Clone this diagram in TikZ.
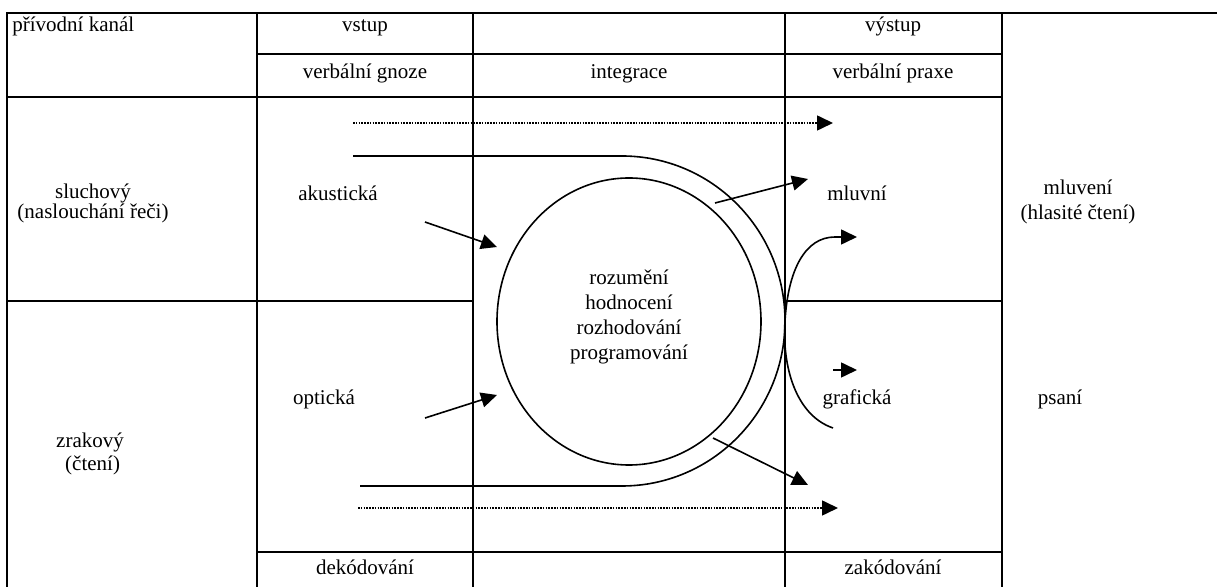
\documentclass[tikz,border=0pt]{standalone}
\usepackage{fontspec}
\setmainfont{Liberation Serif}
\usetikzlibrary{arrows.meta,shapes.geometric,positioning}
\tikzset{
rule/.style={line width=1.1pt},
flow/.style={line width=0.8pt,-{Triangle[length=8pt,width=7.5pt]}},
dotflow/.style={flow,line width=0.8pt,dash pattern=on 0.8pt off 0.6pt},
lbl/.style={inner sep=0pt,align=center,anchor=base,font=\fontsize{10.5}{12.5}\selectfont},
}

\begin{document}
\begin{tikzpicture}[x=0.5pt,y=-0.5pt]
            \useasboundingbox (0,0) rectangle (1217,587);
            % table rules
            \draw[rule] (7,587) -- (7,13) -- (1217,13);
            \draw[rule] (257,13) -- (257,587);
            \draw[rule] (473,13) -- (473,587);
            \draw[rule] (785,13) -- (785,587);
            \draw[rule] (1002,13) -- (1002,587);
            \draw[rule] (257,54) -- (1002,54);
            \draw[rule] (7,97) -- (1002,97);
            \draw[rule] (7,301) -- (473,301);
            \draw[rule] (785,301) -- (1002,301);
            \draw[rule] (257,552) -- (1002,552);

            % header
            \node[lbl,anchor=base west] (kanal) at (12,32) {přívodní kanál};
            \node[lbl] (vstup) at (365,32) {vstup};
            \node[lbl] (vystup) at (893,32) {výstup};
            \node[lbl] (gnoze) at (365,79) {verbální gnoze};
            \node[lbl] (integrace) at (629,79) {integrace};
            \node[lbl] (praxe) at (893,79) {verbální praxe};

            % rows (base = last line)
            \node[lbl,font=\fontsize{10.5}{10}\selectfont] (sluch) at (93,219) {sluchový\\(naslouchání řeči)};
            \node[lbl] (akust) at (338,201) {akustická};
            \node[lbl] (mluvni) at (857,201) {mluvní};
            \node[lbl] (mluveni) at (1078,220) {mluvení\\(hlasité čtení)};
            \node[lbl,font=\fontsize{10.5}{11.5}\selectfont] (zrak) at (90,471) {zrakový\\\ (čtení)};
            \node[lbl] (opt) at (324,405) {optická};
            \node[lbl] (graf) at (857,405) {grafická};
            \node[lbl] (psani) at (1060,405) {psaní};
            \node[lbl] (dekod) at (365,575) {dekódování};
            \node[lbl] (zakod) at (893,575) {zakódování};

            % centre
            \node[draw,ellipse,line width=0.8pt,inner sep=0pt,minimum width=132pt,minimum height=143.5pt] (core) at (629,321.5) {};
            \node[lbl] (tasks) at (629,360) {rozumění\\hodnocení\\rozhodování\\programování};

            \coordinate (acu-s) at (425,222);
            \coordinate (acu-e) at (497,247);
            \coordinate (opt-s) at (425,418);
            \coordinate (opt-e) at (497,395);
            \coordinate (spk-s) at (715,203);
            \coordinate (spk-e) at (808,179);
            \coordinate (wrt-s) at (713,438);
            \coordinate (wrt-e) at (808,485);
            \coordinate (top-s) at (353,123);
            \coordinate (top-e) at (833,123);
            \coordinate (bot-s) at (358,508);
            \coordinate (bot-e) at (838,508);
            \coordinate (loop-s) at (353,156);
            \coordinate (loop-a) at (622,156);
            \coordinate (loop-e) at (360,486);
            \coordinate (gr-s) at (833,370);
            \coordinate (gr-e) at (857,370);
            \coordinate (bend-s) at (833,428);
            \coordinate (bend-m) at (785,321);
            \coordinate (bend-c) at (835,237);
            \coordinate (bend-e) at (857,237);

            \draw[dotflow] (top-s) -- (top-e);
            \draw[dotflow] (bot-s) -- (bot-e);
            \draw[line width=0.8pt] (loop-s) -- (loop-a) arc[start angle=90,end angle=-90,x radius=81.5pt,y radius=82.5pt] -- (loop-e);
            \draw[flow] (acu-s) -- (acu-e);
            \draw[flow] (opt-s) -- (opt-e);
            \draw[flow] (spk-s) -- (spk-e);
            \draw[flow] (wrt-s) -- (wrt-e);
            \draw[flow] (gr-s) -- (gr-e);
            \draw[flow] (bend-s) .. controls (795,415) and (782,365) .. (bend-m) .. controls (788,270) and (805,237) .. (bend-c) -- (bend-e);
        \end{tikzpicture}
\end{document}
